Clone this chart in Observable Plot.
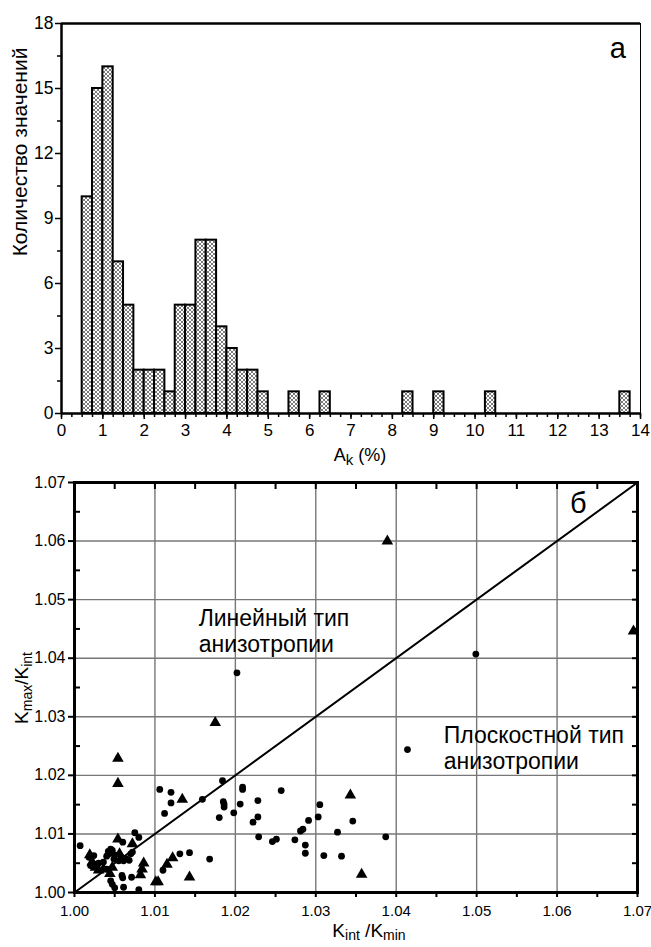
<!DOCTYPE html>
<html>
<head>
<meta charset="utf-8">
<script src="https://cdn.jsdelivr.net/npm/d3@7"></script>
<script src="https://cdn.jsdelivr.net/npm/@observablehq/plot@0.6"></script>
<style>
  body { margin: 0; background: #fff; }
  #chart { width: 651px; }
  #chart svg { display: block; }
</style>
</head>
<body>
<div id="chart"></div>
<script>
// ---------- Panel а: histogram of A_k (%) ----------
const binStarts = [0.5, 0.75, 1.0, 1.25, 1.5, 1.75, 2.0, 2.25, 2.5, 2.75, 3.0, 3.25, 3.5, 3.75, 4.0, 4.25, 4.5, 4.75, 5.5, 6.25, 8.25, 9.0, 10.25, 13.5];
const counts    = [10, 15, 16, 7, 5, 2, 2, 2, 1, 5, 5, 8, 8, 4, 3, 2, 2, 1, 1, 1, 1, 1, 1, 1];
const binWidth = 0.25;
const histXTicks = [0, 1, 2, 3, 4, 5, 6, 7, 8, 9, 10, 11, 12, 13, 14];
const histYTicks = [0, 3, 6, 9, 12, 15, 18];

// ---------- Panel б: K_max/K_int vs K_int/K_min ----------
const circlePoints = [
  [1.0007, 1.0080], [1.0018, 1.0060], [1.0020, 1.0046], [1.0024, 1.0063], [1.0030, 1.0050],
  [1.0036, 1.0052], [1.0040, 1.0062], [1.0042, 1.0070], [1.0043, 1.0066], [1.0045, 1.0074],
  [1.0047, 1.0072], [1.0049, 1.0057], [1.0050, 1.0064], [1.0055, 1.0054], [1.0058, 1.0060],
  [1.0061, 1.0054], [1.0064, 1.0058], [1.0068, 1.0055], [1.0070, 1.0066], [1.0072, 1.0069],
  [1.0060, 1.0086], [1.0075, 1.0102], [1.0080, 1.0094],
  [1.0045, 1.0020], [1.0047, 1.0014], [1.0050, 1.0008], [1.0059, 1.0029], [1.0060, 1.0025],
  [1.0061, 1.0009], [1.0071, 1.0026], [1.0080, 1.0005], [1.0040, 1.0040],
  [1.0106, 1.0176], [1.0120, 1.0171], [1.0120, 1.0153], [1.0112, 1.0135], [1.0159, 1.0159],
  [1.0184, 1.0191], [1.0185, 1.0155], [1.0186, 1.0151], [1.0186, 1.0146], [1.0180, 1.0128],
  [1.0198, 1.0136], [1.0206, 1.0151], [1.0209, 1.0180], [1.0209, 1.0176], [1.0228, 1.0157],
  [1.0228, 1.0129], [1.0222, 1.0120], [1.0229, 1.0095], [1.0257, 1.0174], [1.0246, 1.0087],
  [1.0251, 1.0091], [1.0274, 1.0090], [1.0281, 1.0105], [1.0284, 1.0108], [1.0291, 1.0123],
  [1.0287, 1.0081], [1.0287, 1.0067], [1.0303, 1.0129], [1.0305, 1.0150], [1.0310, 1.0063],
  [1.0131, 1.0066], [1.0143, 1.0068], [1.0168, 1.0057], [1.0110, 1.0038],
  [1.0346, 1.0122], [1.0327, 1.0103], [1.0387, 1.0095], [1.0332, 1.0062],
  [1.0414, 1.0244], [1.0499, 1.0407], [1.0202, 1.0375]
];
const trianglePoints = [
  [1.0389, 1.0600], [1.0695, 1.0446], [1.0175, 1.0290], [1.0054, 1.0229], [1.0054, 1.0186],
  [1.0134, 1.0159], [1.0343, 1.0166], [1.0357, 1.0031], [1.0122, 1.0059], [1.0115, 1.0048],
  [1.0143, 1.0026], [1.0101, 1.0018], [1.0104, 1.0018],
  [1.0054, 1.0091], [1.0072, 1.0083], [1.0019, 1.0064], [1.0022, 1.0052], [1.0026, 1.0043],
  [1.0036, 1.0040], [1.0047, 1.0043], [1.0044, 1.0032], [1.0056, 1.0066], [1.0086, 1.0050],
  [1.0084, 1.0040], [1.0082, 1.0030], [1.0030, 1.0038]
];
const scatterDomain = [1.00, 1.07];
const scatterTicks = [1.00, 1.01, 1.02, 1.03, 1.04, 1.05, 1.06, 1.07];
const annotations = [
  {x: 1.01544, y: 1.04463, text: "Линейный тип\nанизотропии"},
  {x: 1.04591, y: 1.02470, text: "Плоскостной тип\nанизотропии"}
];

const FONT = "'Liberation Sans', Arial, Helvetica, sans-serif";
const noText = () => "";

// ---------------- top plot ----------------
const histData = binStarts.map((x, i) => ({x1: x, x2: x + binWidth, count: counts[i]}));
const histXMinor = d3.range(0, 14.0001, 0.25);
const histYMinor = d3.range(1.5, 18, 3);

const topSvg = Plot.plot({
  width: 651,
  height: 455,
  marginLeft: 61,
  marginRight: 11,
  marginTop: 23,
  marginBottom: 42,
  style: {fontFamily: FONT, fontSize: "17px", color: "#000", background: "#fff", overflow: "visible"},
  x: {domain: [0, 14]},
  y: {domain: [0, 18]},
  marks: [
    Plot.rect(histData, {x1: "x1", x2: "x2", y1: 0, y2: "count", fill: "url(#xhatch)", stroke: "#000", strokeWidth: 2}),
    Plot.ruleY([18], {stroke: "#000", strokeWidth: 2.5}),
    Plot.ruleX([14], {stroke: "#000", strokeWidth: 1}),
    Plot.ruleY([0], {stroke: "#000", strokeWidth: 2.5}),
    Plot.ruleX([0], {stroke: "#000", strokeWidth: 2.5}),
    Plot.axisX(histXMinor, {anchor: "bottom", tickSize: 4, tickFormat: noText, label: null, strokeWidth: 1.5}),
    Plot.axisX(histXTicks, {anchor: "bottom", tickSize: 6, tickPadding: 4, label: null, strokeWidth: 1.5, fontSize: 17}),
    Plot.axisY(histYMinor, {anchor: "left", tickSize: 4, tickFormat: noText, label: null, strokeWidth: 1.5}),
    Plot.axisY(histYTicks, {anchor: "left", tickSize: 6, tickPadding: 2, label: null, strokeWidth: 1.5, fontSize: 17.5}),
    Plot.text(["а"], {x: 13.45, y: 16.4, fontSize: 29, textAnchor: "middle", lineAnchor: "bottom"})
  ]
});

// hatch pattern
{
  const defs = d3.select(topSvg).insert("defs", ":first-child");
  const pat = defs.append("pattern").attr("id", "xhatch")
    .attr("patternUnits", "userSpaceOnUse").attr("width", 4).attr("height", 4);
  pat.append("rect").attr("width", 4).attr("height", 4).attr("fill", "#fff");
  pat.append("path").attr("d", "M0,0L4,4M4,0L0,4M-1,3L1,5M3,-1L5,1M-1,1L1,-1M3,5L5,3")
    .attr("stroke", "#444").attr("stroke-width", 0.7);
}
// axis titles
{
  const s = d3.select(topSvg);
  s.append("text")
    .attr("transform", "translate(27,152) rotate(-90)")
    .attr("text-anchor", "middle").attr("font-family", FONT).attr("font-size", 21).attr("fill", "#000")
    .text("Количество значений");
  const xl = s.append("text").attr("x", 360).attr("y", 461)
    .attr("text-anchor", "middle").attr("font-family", FONT).attr("font-size", 18).attr("fill", "#000");
  xl.append("tspan").text("A");
  xl.append("tspan").attr("font-size", 15).attr("dy", 4).text("k");
  xl.append("tspan").attr("dy", -4).text(" (%)");
}

// ---------------- bottom plot ----------------
const scatterMinor = d3.range(0, 15).map(i => 1 + i * 0.005);
const scatterHalf = d3.range(0, 7).map(i => 1.005 + i * 0.01);

const bottomSvg = Plot.plot({
  width: 651,
  height: 492,
  marginLeft: 74,
  marginRight: 14,
  marginTop: 27,
  marginBottom: 55,
  style: {fontFamily: FONT, fontSize: "16px", color: "#000", background: "#fff", overflow: "visible"},
  x: {domain: scatterDomain},
  y: {domain: scatterDomain},
  marks: [
    Plot.gridX(scatterTicks, {stroke: "#777", strokeOpacity: 1, strokeWidth: 1.4}),
    Plot.gridY(scatterTicks, {stroke: "#777", strokeOpacity: 1, strokeWidth: 1.4}),
    Plot.line(scatterDomain.map(v => [v, v]), {stroke: "#000", strokeWidth: 2}),
    Plot.dot(circlePoints, {x: d => d[0], y: d => d[1], r: 3.4, fill: "#000", stroke: null}),
    Plot.dot(trianglePoints, {x: d => d[0], y: d => d[1], symbol: "triangle", r: 4.3, fill: "#000", stroke: null}),
    Plot.frame({stroke: "#000", strokeWidth: 3}),
    Plot.axisX(scatterMinor, {anchor: "bottom", tickSize: 5, tickFormat: noText, label: null, strokeWidth: 2}),
    Plot.axisX(scatterTicks, {anchor: "bottom", tickSize: 0, tickPadding: 13, tickFormat: d3.format(".2f"), label: null, fontSize: 15}),
    Plot.axisX(scatterMinor, {anchor: "top", tickSize: 6, dy: 6, tickFormat: noText, label: null, strokeWidth: 2}),
    Plot.axisY(scatterTicks, {anchor: "left", tickSize: 6, tickPadding: 3, tickFormat: d3.format(".2f"), label: null, strokeWidth: 2, fontSize: 16}),
    Plot.axisY(scatterHalf, {anchor: "left", tickSize: 6, dx: 6, tickFormat: noText, label: null, strokeWidth: 2}),
    Plot.axisY(scatterMinor, {anchor: "right", tickSize: 6, dx: -6, tickFormat: noText, label: null, strokeWidth: 2}),
    Plot.text(annotations, {x: "x", y: "y", text: "text", textAnchor: "start", lineHeight: 1.13, fontSize: 23}),
    Plot.text(["б"], {x: 1.06264, y: 1.06474, fontSize: 29, textAnchor: "middle", lineAnchor: "bottom"})
  ]
});

{
  const s = d3.select(bottomSvg);
  const yl = s.append("text")
    .attr("transform", "translate(28,233) rotate(-90)")
    .attr("text-anchor", "middle").attr("font-family", FONT).attr("font-size", 19).attr("fill", "#000");
  yl.append("tspan").text("K");
  yl.append("tspan").attr("font-size", 14).attr("dy", 4).text("max");
  yl.append("tspan").attr("dy", -4).text("/K");
  yl.append("tspan").attr("font-size", 14).attr("dy", 4).text("int");
  const xl = s.append("text").attr("x", 369).attr("y", 482)
    .attr("text-anchor", "middle").attr("font-family", FONT).attr("font-size", 19).attr("fill", "#000");
  xl.append("tspan").text("K");
  xl.append("tspan").attr("font-size", 14).attr("dy", 3).text("int");
  xl.append("tspan").attr("dy", -3).text(" /K");
  xl.append("tspan").attr("font-size", 14).attr("dy", 3).text("min");
}

const chart = document.getElementById("chart");
chart.appendChild(topSvg);
chart.appendChild(bottomSvg);
</script>
</body>
</html>
